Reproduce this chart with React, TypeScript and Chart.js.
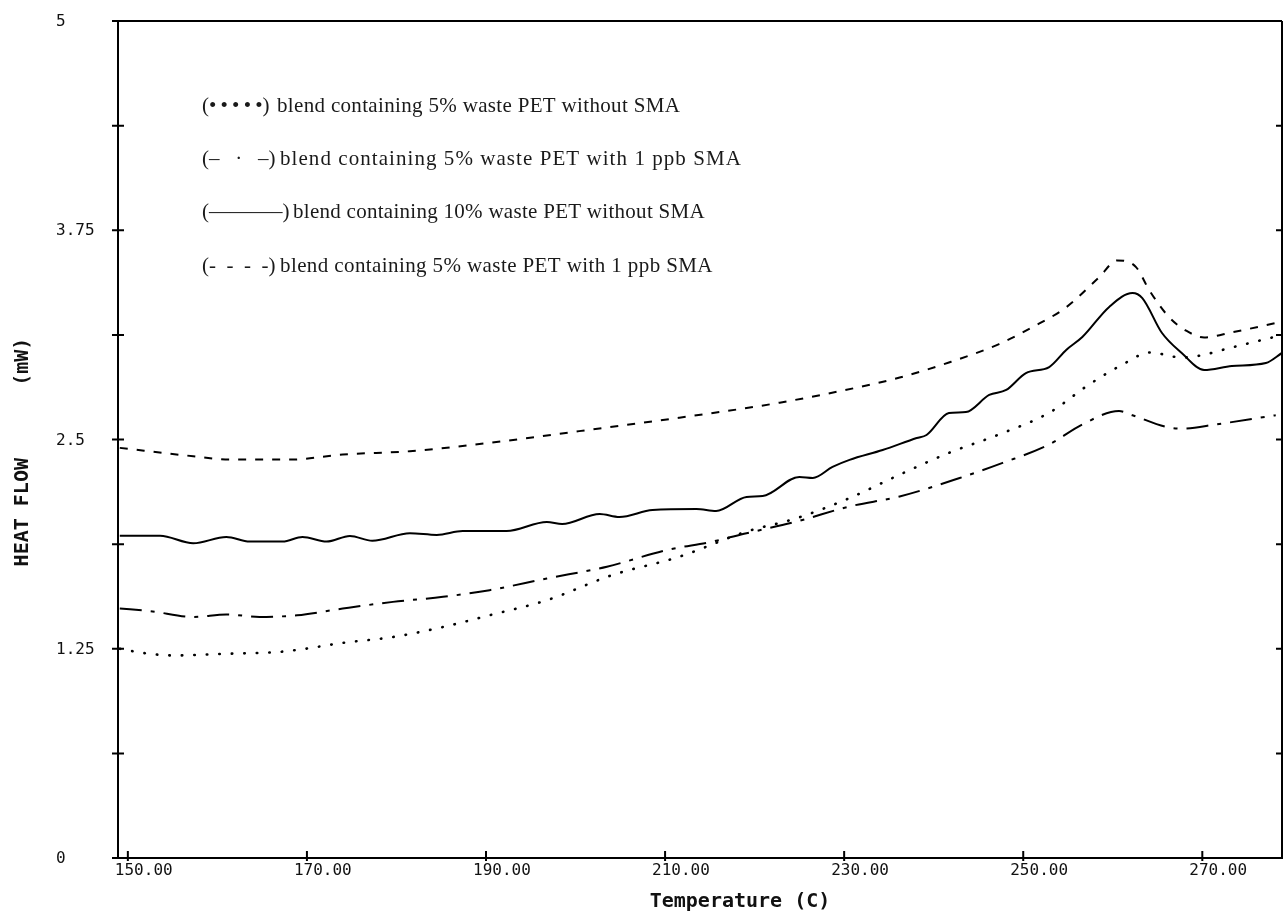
import React, { useEffect, useRef } from "react";
import { Chart, registerables } from "chart.js";

Chart.register(...registerables);

// Axis ranges and ticks
const X_MIN = 148.9;
const X_MAX = 278.9;
const Y_MIN = 0;
const Y_MAX = 5;
const Y_STEP = 0.625;
const xTickValues = [150, 170, 190, 210, 230, 250, 270];
const xTickLabels = ["150.00", "170.00", "190.00", "210.00", "230.00", "250.00", "270.00"];
const yLabelValues = [0, 1.25, 2.5, 3.75, 5];
const yTickLabels = ["0", "1.25", "2.5", "3.75", "5"];
const xTitle = "Temperature (C)";
const yTitle = "HEAT FLOW      (mW)";

// (•••••) blend containing 5% waste PET without SMA
const dottedTemps = [149.1, 151.7, 155.0, 161.0, 166.6, 169.2, 174.0, 179.6, 185.2, 190.4, 196.8, 204.1, 211.6, 219.1, 224.7, 230.6, 236.2, 241.7, 247.3, 252.9, 257.4, 261.5, 264.1, 267.7, 269.6, 273.3, 278.6];
const dottedFlow = [1.25, 1.225, 1.21, 1.22, 1.23, 1.245, 1.285, 1.32, 1.38, 1.45, 1.54, 1.69, 1.80, 1.95, 2.03, 2.15, 2.29, 2.42, 2.53, 2.66, 2.83, 2.96, 3.02, 2.99, 3.0, 3.05, 3.12];

// (– · –) blend containing 5% waste PET with 1 ppb SMA
const dashDotTemps = [149.1, 152.5, 157.3, 161.0, 164.7, 168.9, 174.0, 179.6, 185.2, 190.4, 196.8, 203.5, 210.2, 215.3, 219.1, 224.7, 230.6, 236.2, 242.9, 247.7, 252.9, 256.6, 260.7, 262.2, 266.0, 267.7, 271.5, 278.2];
const dashDotFlow = [1.49, 1.475, 1.44, 1.455, 1.44, 1.45, 1.49, 1.53, 1.56, 1.60, 1.67, 1.74, 1.84, 1.89, 1.94, 2.01, 2.10, 2.16, 2.27, 2.36, 2.47, 2.59, 2.67, 2.645, 2.575, 2.565, 2.59, 2.645];

// (———) blend containing 10% waste PET without SMA
const solidTemps = [149.1, 153.6, 157.3, 161.0, 163.6, 167.3, 169.5, 172.2, 174.8, 177.3, 181.5, 184.5, 187.4, 190.4, 192.3, 196.8, 198.5, 202.7, 204.9, 208.6, 213.5, 215.7, 219.1, 220.9, 225.0, 226.5, 228.7, 230.6, 234.3, 238.1, 239.2, 241.7, 243.6, 246.2, 248.1, 250.3, 252.9, 254.8, 256.6, 259.6, 262.2, 263.3, 265.5, 267.7, 270.2, 273.3, 277.1, 278.9];
const solidFlow = [1.925, 1.925, 1.88, 1.918, 1.89, 1.89, 1.918, 1.89, 1.924, 1.895, 1.94, 1.93, 1.953, 1.953, 1.953, 2.007, 1.995, 2.055, 2.037, 2.079, 2.085, 2.073, 2.157, 2.162, 2.276, 2.27, 2.336, 2.378, 2.437, 2.509, 2.527, 2.658, 2.664, 2.766, 2.796, 2.897, 2.933, 3.035, 3.112, 3.292, 3.375, 3.345, 3.136, 3.017, 2.915, 2.939, 2.957, 3.017];

// (- - - -) blend containing 5% waste PET with 1 ppb SMA
const dashedTemps = [149.1, 157.3, 161.4, 168.1, 174.0, 181.5, 190.4, 200.4, 211.6, 222.8, 231.4, 236.2, 241.7, 247.3, 251.0, 254.8, 258.5, 260.5, 262.6, 264.1, 266.3, 268.2, 270.2, 273.3, 278.6];
const dashedFlow = [2.45, 2.40, 2.38, 2.38, 2.41, 2.43, 2.48, 2.55, 2.63, 2.72, 2.81, 2.87, 2.96, 3.07, 3.17, 3.29, 3.47, 3.57, 3.53, 3.39, 3.23, 3.15, 3.11, 3.14, 3.20];

const legendSymbols = ["(•\u2009•\u2009•\u2009•\u2009•)", "(–   ·   –)", "(———–)", "(-  -  -  -)"];
const legendTexts = [
  "blend containing 5% waste PET without SMA",
  "blend containing 5% waste PET with 1 ppb SMA",
  "blend containing 10% waste PET without SMA",
  "blend containing 5% waste PET with 1 ppb SMA",
];

const toPoints = (xs: number[], ys: number[]) => xs.map((x, i) => ({ x, y: ys[i] }));

const decorPlugin = {
  id: "decor",
  afterDraw(chart: any) {
    const { ctx, chartArea: a, scales } = chart;
    const x = scales.x;
    const y = scales.y;
    ctx.save();
    ctx.strokeStyle = "#000";
    ctx.lineWidth = 2;
    ctx.beginPath();
    ctx.moveTo(a.left, a.top);
    ctx.lineTo(a.right, a.top);
    ctx.moveTo(a.right, a.top);
    ctx.lineTo(a.right, a.bottom);
    // y tick marks (crossing left axis, inward on right axis)
    y.ticks.forEach((t: any) => {
      const py = y.getPixelForValue(t.value);
      ctx.moveTo(a.left - 6, py);
      ctx.lineTo(a.left + 6, py);
      ctx.moveTo(a.right - 6, py);
      ctx.lineTo(a.right, py);
    });
    // x tick marks
    xTickValues.forEach((v) => {
      const px = x.getPixelForValue(v);
      ctx.moveTo(px, a.bottom - 7);
      ctx.lineTo(px, a.bottom + 3);
    });
    ctx.stroke();

    // tick labels
    ctx.fillStyle = "#111";
    ctx.font = '16px "DejaVu Sans Mono"';
    ctx.textBaseline = "middle";
    ctx.textAlign = "left";
    yLabelValues.forEach((v, i) => {
      const py = y.getPixelForValue(v);
      ctx.fillText(yTickLabels[i], 56, py + 1);
    });
    xTickValues.forEach((v, i) => {
      const px = x.getPixelForValue(v);
      ctx.fillText(xTickLabels[i], px - 13, a.bottom + 13);
    });

    // axis titles
    ctx.font = 'bold 20px "DejaVu Sans Mono"';
    ctx.textAlign = "center";
    ctx.fillText(xTitle, 740, 902);
    ctx.save();
    ctx.translate(23, 452);
    ctx.rotate(-Math.PI / 2);
    ctx.font = 'bold 20px "DejaVu Sans Mono"';
    ctx.fillText(yTitle, 0, 0);
    ctx.restore();

    // legend text
    ctx.font = '21px "Liberation Serif"';
    ctx.textAlign = "left";
    ctx.fillStyle = "#1a1a1a";
    const rows = [106, 159, 212, 266];
    const textX = [277, 280, 293, 280];
    const textW = [403, 462, 412, 433];
    legendSymbols.forEach((s, i) => {
      (ctx as any).letterSpacing = "0px";
      ctx.fillText(s, 202, rows[i]);
      const t = legendTexts[i];
      const w = ctx.measureText(t).width;
      const extra = Math.max(0, (textW[i] - w) / t.length);
      (ctx as any).letterSpacing = `${extra.toFixed(2)}px`;
      ctx.fillText(t, textX[i], rows[i]);
    });
    (ctx as any).letterSpacing = "0px";
    ctx.restore();
  },
};

export default function App() {
  const canvasRef = useRef<HTMLCanvasElement | null>(null);

  useEffect(() => {
    if (!canvasRef.current) return;
    const chart = new Chart(canvasRef.current, {
      type: "line",
      data: {
        datasets: [
          {
            label: legendTexts[0],
            data: toPoints(dottedTemps, dottedFlow),
            borderColor: "#000",
            borderWidth: 2.6,
            borderDash: [0.5, 12],
            borderCapStyle: "round",
            pointRadius: 0,
            cubicInterpolationMode: "monotone",
            fill: false,
          },
          {
            label: legendTexts[1],
            data: toPoints(dashDotTemps, dashDotFlow),
            borderColor: "#000",
            borderWidth: 2,
            borderDash: [22, 9, 4, 9],
            pointRadius: 0,
            cubicInterpolationMode: "monotone",
            fill: false,
          },
          {
            label: legendTexts[2],
            data: toPoints(solidTemps, solidFlow),
            borderColor: "#000",
            borderWidth: 2,
            pointRadius: 0,
            cubicInterpolationMode: "monotone",
            fill: false,
          },
          {
            label: legendTexts[3],
            data: toPoints(dashedTemps, dashedFlow),
            borderColor: "#000",
            borderWidth: 2,
            borderDash: [8, 9],
            pointRadius: 0,
            cubicInterpolationMode: "monotone",
            fill: false,
          },
        ],
      },
      options: {
        animation: false,
        responsive: false,
        maintainAspectRatio: false,
        layout: { padding: { left: 0, top: 21, right: 1, bottom: 0 } },
        plugins: { legend: { display: false }, tooltip: { enabled: false } },
        scales: {
          x: {
            type: "linear",
            min: X_MIN,
            max: X_MAX,
            grid: { display: false },
            border: { display: true, color: "#000", width: 2 },
            ticks: { display: false },
            afterBuildTicks: (scale: any) => {
              scale.ticks = xTickValues.map((v) => ({ value: v }));
            },
            afterFit: (scale: any) => {
              scale.height = 53;
            },
          },
          y: {
            type: "linear",
            min: Y_MIN,
            max: Y_MAX,
            grid: { display: false },
            border: { display: true, color: "#000", width: 2 },
            ticks: { display: false, stepSize: Y_STEP },
            afterFit: (scale: any) => {
              scale.width = 118;
            },
          },
        },
      },
      plugins: [decorPlugin],
    } as any);
    return () => chart.destroy();
  }, []);

  return (
    <div style={{ position: "fixed", left: 0, top: 0, width: 1283, height: 911, background: "#fff" }}>
      <canvas ref={canvasRef} width={1283} height={911} style={{ display: "block" }} />
    </div>
  );
}
